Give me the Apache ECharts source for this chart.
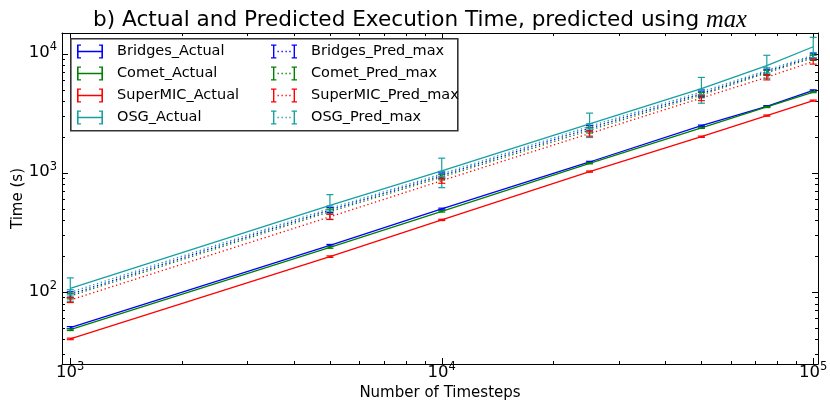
<!DOCTYPE html>
<html>
<head>
<meta charset="utf-8">
<script src="https://cdn.jsdelivr.net/npm/echarts@6/dist/echarts.min.js"></script>
<style>
html,body{margin:0;padding:0;background:#fff;}
#chart{width:830px;height:406px;}
</style>
</head>
<body>
<div id="chart"></div>
<script>
// ---- data ----
const timesteps = [1000, 5000, 10000, 25000, 50000, 75000, 100000];

const bridgesActual    = [50.5, 248, 500, 1240, 2500, 3640, 4940];
const bridgesActualErr = [1.0, 4, 8, 16, 32, 45, 60];
const cometActual      = [48.5, 238, 478, 1210, 2400, 3590, 4790];
const cometActualErr   = [0.8, 4, 7, 14, 28, 40, 55];
const superMICActual   = [40.6, 199, 405, 1030, 2020, 3040, 4060];
const superMICActualErr= [0.6, 3, 5, 12, 25, 35, 45];
const osgActual        = [108, 535, 1045, 2590, 5110, 8000, 11500];
const osgActualErr     = [24, 125, 290, 600, 1250, 1750, 2300];

const bridgesPred      = [96, 490, 955, 2380, 4650, 7100, 9550];
const bridgesPredErr   = [5, 24, 48, 120, 230, 350, 480];
const cometPred        = [93, 475, 925, 2290, 4520, 6950, 9300];
const cometPredErr     = [5, 23, 46, 115, 225, 345, 465];
const superMICPred     = [86, 430, 865, 2150, 4270, 6380, 8650];
const superMICPredErr  = [4, 22, 43, 108, 215, 320, 430];
const osgPred          = [100, 505, 985, 2470, 4800, 7300, 9800];
const osgPredErr       = [5, 25, 49, 124, 240, 365, 490];

const xMajor = [1000, 10000, 100000];
const xMinor = [2000,3000,4000,5000,6000,7000,8000,9000,20000,30000,40000,50000,60000,70000,80000,90000];
const yMajor = [100, 1000, 10000];
const yMinor = [30,40,50,60,70,80,90,200,300,400,500,600,700,800,900,2000,3000,4000,5000,6000,7000,8000,9000];

const xMin = 950, xMax = 103000, yMin = 25, yMax = 15000;

const seriesDefs = [
  {name:'Bridges_Actual',   y:bridgesActual,  e:bridgesActualErr,  color:'#0000ff', dotted:false},
  {name:'Comet_Actual',     y:cometActual,    e:cometActualErr,    color:'#008000', dotted:false},
  {name:'SuperMIC_Actual',  y:superMICActual, e:superMICActualErr, color:'#ff0000', dotted:false},
  {name:'OSG_Actual',       y:osgActual,      e:osgActualErr,      color:'#17a0a0', dotted:false},
  {name:'Bridges_Pred_max', y:bridgesPred,    e:bridgesPredErr,    color:'#0000ff', dotted:true},
  {name:'Comet_Pred_max',   y:cometPred,      e:cometPredErr,      color:'#008000', dotted:true},
  {name:'SuperMIC_Pred_max',y:superMICPred,   e:superMICPredErr,   color:'#ff0000', dotted:true},
  {name:'OSG_Pred_max',     y:osgPred,        e:osgPredErr,        color:'#17a0a0', dotted:true}
];

const FONT = 'DejaVu Sans';

function logLabel(v){
  const p = Math.round(Math.log10(v));
  return '{b|10}{s|' + p + '}';
}
const labelRich = {
  b:{fontFamily:FONT, fontSize:16.5, color:'#000', verticalAlign:'bottom', lineHeight:15},
  s:{fontFamily:FONT, fontSize:11.5, color:'#000', verticalAlign:'bottom', padding:[0,0,8,0], lineHeight:11}
};

const tickLine = {color:'#000', width:1};

function xAxisDef(pos, values, len, withLabel, withLine){
  const a = {
    type:'log', min:xMin, max:xMax, position:pos, gridIndex:0,
    axisLine:{show:withLine, lineStyle:{color:'#000', width:1}},
    axisTick:{show:true, inside:true, length:len, customValues:values, lineStyle:tickLine},
    axisLabel:{show:withLabel, customValues:values, formatter:logLabel, rich:labelRich, margin:2},
    splitLine:{show:false}, minorTick:{show:false}
  };
  if (withLabel){
    a.name = 'Number of Timesteps';
    a.nameLocation = 'middle';
    a.nameGap = 20;
    a.nameTextStyle = {fontFamily:FONT, fontSize:15, color:'#000'};
  }
  return a;
}
function yAxisDef(pos, values, len, withLabel, withLine){
  const a = {
    type:'log', min:yMin, max:yMax, position:pos, gridIndex:0,
    axisLine:{show:withLine, lineStyle:{color:'#000', width:1}},
    axisTick:{show:true, inside:true, length:len, customValues:values, lineStyle:tickLine},
    axisLabel:{show:withLabel, customValues:values, formatter:logLabel, rich:labelRich, margin:5},
    splitLine:{show:false}, minorTick:{show:false}
  };
  if (withLabel){
    a.name = 'Time (s)';
    a.nameLocation = 'middle';
    a.nameGap = 36;
    a.nameMoveOverlap = false;
    a.nameTextStyle = {fontFamily:FONT, fontSize:15, color:'#000'};
  }
  return a;
}

const series = [];
seriesDefs.forEach(function(d){
  const errData = timesteps.map(function(x,i){ return [x, d.y[i], d.y[i]-d.e[i], d.y[i]+d.e[i]]; });
  series.push({
    type:'custom', name:d.name, xAxisIndex:0, yAxisIndex:0,
    itemStyle:{color:d.color},
    encode:{x:0, y:[1,2,3]},
    data:errData,
    clip:true,
    z:3,
    renderItem:function(params, api){
      const x = api.value(0);
      const lo = api.coord([x, api.value(2)]);
      const hi = api.coord([x, api.value(3)]);
      const cw = 3.5;
      const st = {stroke:d.color, lineWidth:1.2, fill:null};
      return {type:'group', children:[
        {type:'line', shape:{x1:lo[0], y1:lo[1], x2:hi[0], y2:hi[1]}, style:st},
        {type:'line', shape:{x1:lo[0]-cw, y1:lo[1], x2:lo[0]+cw, y2:lo[1]}, style:st},
        {type:'line', shape:{x1:hi[0]-cw, y1:hi[1], x2:hi[0]+cw, y2:hi[1]}, style:st}
      ]};
    }
  });
  series.push({
    type:'line', name:d.name, xAxisIndex:0, yAxisIndex:0,
    data:timesteps.map(function(x,i){ return [x, d.y[i]]; }),
    symbol:'none', showSymbol:false,
    lineStyle:{color:d.color, width:1.3, type: d.dotted ? [1.3, 2.7] : 'solid'},
    itemStyle:{color:d.color},
    z:2, animation:false
  });
});

const iconActual = 'path://M0,0 L1.6,0 L1.6,14 L0,14 Z M24.4,0 L26,0 L26,14 L24.4,14 Z M0,6.3 L26,6.3 L26,7.7 L0,7.7 Z M0,0 L4,0 L4,1.2 L0,1.2 Z M0,12.8 L4,12.8 L4,14 L0,14 Z M22,0 L26,0 L26,1.2 L22,1.2 Z M22,12.8 L26,12.8 L26,14 L22,14 Z';
const iconPred = 'path://M2,0 L3.4,0 L3.4,14 L2,14 Z M0,0 L5.4,0 L5.4,1.2 L0,1.2 Z M0,12.8 L5.4,12.8 L5.4,14 L0,14 Z ' +
  'M22.6,0 L24,0 L24,14 L22.6,14 Z M20.6,0 L26,0 L26,1.2 L20.6,1.2 Z M20.6,12.8 L26,12.8 L26,14 L20.6,14 Z ' +
  'M6.5,6.3 L7.8,6.3 L7.8,7.7 L6.5,7.7 Z M10.5,6.3 L11.8,6.3 L11.8,7.7 L10.5,7.7 Z M14.5,6.3 L15.8,6.3 L15.8,7.7 L14.5,7.7 Z M18.3,6.3 L19.6,6.3 L19.6,7.7 L18.3,7.7 Z';

const legendActual = ['Bridges_Actual','Comet_Actual','SuperMIC_Actual','OSG_Actual'];
const legendPred = ['Bridges_Pred_max','Comet_Pred_max','SuperMIC_Pred_max','OSG_Pred_max'];

function legendDef(names, left, icon){
  return {
    orient:'vertical', left:left, top:44, z:20,
    padding:0, itemGap:7, itemWidth:26, itemHeight:14,
    selectedMode:false,
    textStyle:{fontFamily:FONT, fontSize:14.5, color:'#000', padding:[0,0,0,9]},
    data:names.map(function(n){ return {name:n, icon:icon}; })
  };
}

const option = {
  animation:false,
  backgroundColor:'#fff',
  title:{
    text:'{a|b) Actual and Predicted Execution Time, predicted using }{m|max}',
    left:88, top:3,
    textStyle:{
      fontWeight:'normal',
      rich:{
        a:{fontFamily:FONT, fontSize:21.6, fontWeight:'normal', color:'#000'},
        m:{fontFamily:'Liberation Serif', fontStyle:'italic', fontWeight:'normal', fontSize:24.5, color:'#000'}
      }
    }
  },
  grid:{left:62, right:12, top:33, bottom:42, containLabel:false, outerBoundsMode:'none'},
  graphic:[{
    type:'rect', left:70, top:38, z:5,
    shape:{width:387, height:92},
    style:{fill:'#fff', stroke:'#333', lineWidth:1.6}
  }],
  legend:[
    legendDef(legendActual, 77, iconActual),
    legendDef(legendPred, 271, iconPred)
  ],
  xAxis:[
    xAxisDef('bottom', xMajor, 6, true, true),
    xAxisDef('bottom', xMinor, 3, false, false),
    xAxisDef('top', xMajor, 6, false, true),
    xAxisDef('top', xMinor, 3, false, false)
  ],
  yAxis:[
    yAxisDef('left', yMajor, 6, true, true),
    yAxisDef('left', yMinor, 3, false, false),
    yAxisDef('right', yMajor, 6, false, true),
    yAxisDef('right', yMinor, 3, false, false)
  ],
  series:series
};

const chart = echarts.init(document.getElementById('chart'), null, {renderer:'canvas'});
chart.setOption(option);
</script>
</body>
</html>
